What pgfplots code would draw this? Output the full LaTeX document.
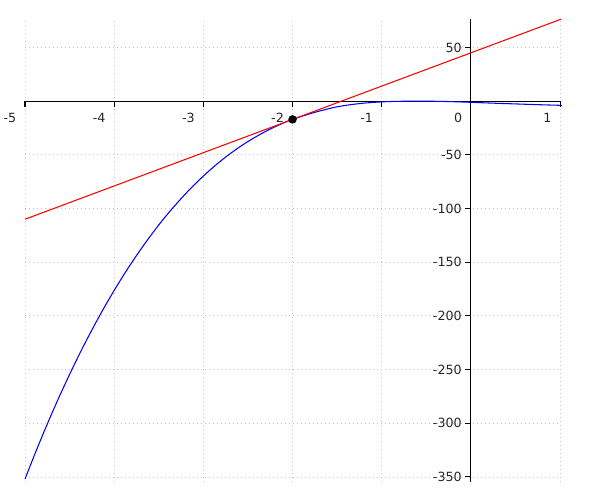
\documentclass[border=0pt]{standalone}
\usepackage{fontspec}
\setmainfont{DejaVu Sans}
\usepackage{pgfplots}
\pgfplotsset{compat=1.18}
\begin{document}
\begin{tikzpicture}
\useasboundingbox (0,0) rectangle (12cm,10cm);
\begin{axis}[
    at={(0.5cm,0.36cm)}, anchor=south west,
    scale only axis, width=10.72cm, height=9.26cm,
    xmin=-5, xmax=1.01, ymin=-354.7, ymax=76.5,
    axis lines=middle,
    axis line style={-, line width=0.6pt},
    tick align=outside, major tick length=0.12cm,
    tick style={black, line width=0.6pt},
    xtick={-5,-4,-3,-2,-1,0,1},
    xticklabels={-5,-4,-3,-2,-1,0,1},
    ytick={-350,-300,-250,-200,-150,-100,-50,50},
    yticklabels={-350,-300,-250,-200,-150,-100,-50,50},
    hide obscured x ticks=false,
    grid=major,
    major grid style={gray!45, line width=0.5pt, dash pattern=on 0.02cm off 0.06cm},
    tick label style={font=\fontsize{7.2}{8}\selectfont, text=black!85},
    xticklabel style={anchor=north east, xshift=-0.05cm},
    yticklabel style={xshift=0.06cm},
    clip=false,
]
% curve
\addplot[color=blue, line width=0.6pt, smooth] coordinates {
    (-5,-351.9) (-4.875,-325.7) (-4.75,-300.7) (-4.625,-277.0)
    (-4.5,-254.5) (-4.375,-233.2) (-4.25,-213.1) (-4.125,-194.1)
    (-4,-176.3) (-3.875,-159.5) (-3.75,-143.8) (-3.625,-129.1)
    (-3.5,-115.3) (-3.375,-102.6) (-3.25,-90.8) (-3.125,-79.8)
    (-3,-69.8) (-2.875,-60.5) (-2.75,-52.1) (-2.625,-44.5)
    (-2.5,-37.6) (-2.375,-31.5) (-2.25,-26.0) (-2.125,-21.2)
    (-2,-17) (-1.75,-10.4) (-1.5,-5.3) (-1.25,-2.3) (-1,-0.7)
    (-0.75,-0.1) (-0.5,-0.05) (-0.25,-0.4) (0,-1.1) (0.25,-1.9)
    (0.5,-2.6) (0.75,-3.3) (1,-3.9) (1.01,-3.95)
};
% tangent at x=-2
\addplot[color=red, line width=0.6pt] coordinates {(-5,-110) (1.01,76.3)};
% point of tangency
\addplot[only marks, mark=*, mark size=2.2pt, color=black] coordinates {(-2,-17)};
\end{axis}
\end{tikzpicture}
\end{document}
